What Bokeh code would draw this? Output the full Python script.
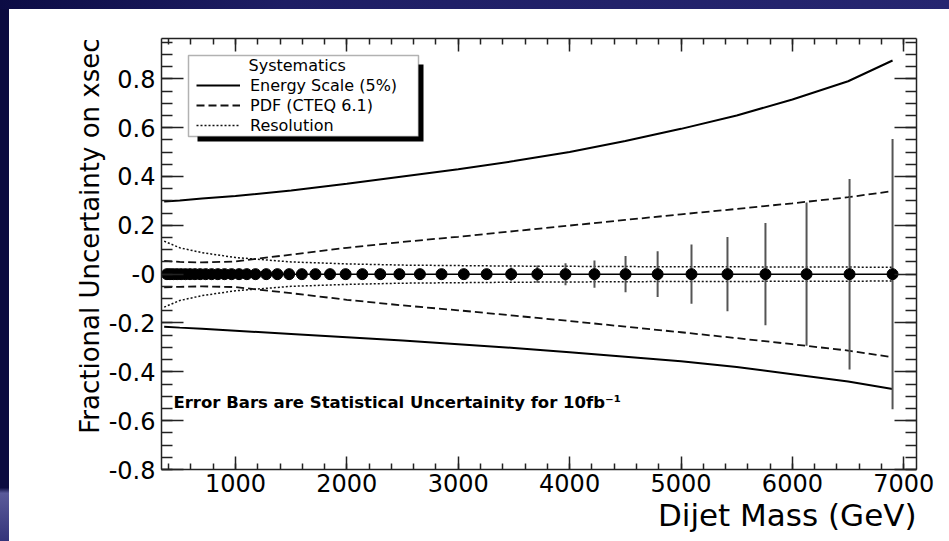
import numpy as np
from bokeh.plotting import figure
from bokeh.models import (Range1d, LinearAxis, FixedTicker, Legend, LegendItem, Label,
                          BoxAnnotation, Title, Spacer, ColumnDataSource)
from bokeh.layouts import column, row
from bokeh.embed import file_html
from bokeh.resources import INLINE

# ---------------- data ----------------
mass = [385, 412, 442, 476, 512, 551, 592, 636, 683, 733, 786, 842, 902, 965, 1032, 1102,
        1180, 1276, 1376, 1482, 1596, 1718, 1849, 1989, 2139, 2300, 2472, 2656, 2850, 3050,
        3255, 3475, 3710, 3963, 4223, 4502, 4790, 5094, 5417, 5758, 6127, 6513, 6899]
stat_err = [0.001, 0.001, 0.001, 0.001, 0.001, 0.001, 0.001, 0.001, 0.001, 0.001, 0.001,
            0.001, 0.001, 0.001, 0.002, 0.002, 0.002, 0.002, 0.002, 0.003, 0.003, 0.003,
            0.004, 0.004, 0.005, 0.005, 0.007, 0.009, 0.012, 0.016, 0.021, 0.027, 0.035,
            0.045, 0.056, 0.074, 0.094, 0.121, 0.152, 0.209, 0.293, 0.390, 0.553]

sys_mass = [360, 500, 700, 1000, 1500, 2000, 2500, 3000, 3500, 4000, 4500, 5000, 5500, 6000, 6500, 6899]
energy_up = [0.297, 0.302, 0.310, 0.320, 0.343, 0.370, 0.400, 0.430, 0.463, 0.500, 0.545, 0.595, 0.650, 0.715, 0.790, 0.875]
energy_dn = [-0.215, -0.219, -0.224, -0.232, -0.245, -0.258, -0.272, -0.287, -0.302, -0.320, -0.338, -0.357, -0.380, -0.410, -0.440, -0.470]
pdf_up = [0.054, 0.050, 0.048, 0.052, 0.080, 0.108, 0.132, 0.153, 0.176, 0.199, 0.222, 0.245, 0.267, 0.290, 0.315, 0.340]
pdf_dn = [-0.054, -0.052, -0.050, -0.053, -0.078, -0.105, -0.128, -0.148, -0.170, -0.192, -0.215, -0.238, -0.262, -0.287, -0.313, -0.340]
res_up = [0.135, 0.108, 0.088, 0.068, 0.050, 0.042, 0.037, 0.035, 0.033, 0.032, 0.031, 0.030, 0.030, 0.029, 0.029, 0.028]
res_dn = [-0.135, -0.108, -0.088, -0.068, -0.050, -0.042, -0.037, -0.035, -0.033, -0.032, -0.031, -0.030, -0.030, -0.029, -0.029, -0.028]

x_ticks = [1000, 2000, 3000, 4000, 5000, 6000, 7000]
x_tick_labels = ["1000", "2000", "3000", "4000", "5000", "6000", "7000"]
y_ticks = [-0.8, -0.6, -0.4, -0.2, 0, 0.2, 0.4, 0.6, 0.8]
y_tick_labels = ["-0.8", "-0.6", "-0.4", "-0.2", "-0", "0.2", "0.4", "0.6", "0.8"]

legend_labels = ["Energy Scale (5%)", "PDF (CTEQ 6.1)", "Resolution"]
legend_title = "Systematics"
note_text = "Error Bars are Statistical Uncertainity for 10fb\u207b\u00b9"
x_title = "Dijet Mass (GeV)"
y_title = "Fractional Uncertainty on xsec"

# ---------------- figure ----------------
FONT = "DejaVu Sans"
AX = "#222222"

p = figure(width=940, height=532, x_range=Range1d(336, 7114), y_range=Range1d(-0.8, 0.965),
           output_backend="svg", toolbar_location=None,
           min_border_left=152, min_border_right=33, min_border_top=29, min_border_bottom=72,
           background_fill_color="white", border_fill_color="white")
p.grid.visible = False
p.outline_line_color = None

x_minor = list(range(400, 7200, 200))
y_minor = [round(v, 2) for v in np.arange(-0.8, 0.97, 0.05)]

def style_axis(ax, tin, tmin):
    ax.axis_line_color = AX
    ax.axis_line_width = 1.5
    ax.major_tick_line_color = AX
    ax.minor_tick_line_color = AX
    ax.major_tick_line_width = 1.5
    ax.minor_tick_line_width = 1.5
    ax.major_tick_in = tin
    ax.major_tick_out = 0
    ax.minor_tick_in = tmin
    ax.minor_tick_out = 0
    ax.major_label_text_font = FONT
    ax.major_label_text_font_size = "24px"
    ax.major_label_text_color = "black"

xa = p.xaxis[0]
xa.ticker = FixedTicker(ticks=x_ticks, minor_ticks=x_minor)
xa.major_label_overrides = dict(zip(x_ticks, x_tick_labels))
style_axis(xa, 13, 6)
xa.major_label_standoff = 4

ya = p.yaxis[0]
ya.ticker = FixedTicker(ticks=y_ticks, minor_ticks=y_minor)
ya.major_label_overrides = dict(zip(y_ticks, y_tick_labels))
style_axis(ya, 22, 11)
ya.major_label_standoff = 6

top_ax = LinearAxis(ticker=FixedTicker(ticks=x_ticks, minor_ticks=x_minor))
style_axis(top_ax, 13, 6)
top_ax.major_label_text_font_size = "0px"
top_ax.major_label_overrides = {t: "" for t in x_ticks}
p.add_layout(top_ax, "above")

right_ax = LinearAxis(ticker=FixedTicker(ticks=y_ticks, minor_ticks=y_minor))
style_axis(right_ax, 22, 11)
right_ax.major_label_text_font_size = "0px"
right_ax.major_label_overrides = {t: "" for t in y_ticks}
p.add_layout(right_ax, "right")

# axis titles
p.add_layout(Title(text=x_title, align="right", text_font=FONT, text_font_size="31px",
                   text_font_style="normal", text_color="black", standoff=0), "below")
p.add_layout(Title(text=y_title, align="right", text_font=FONT, text_font_size="26px",
                   text_font_style="normal", text_color="black", standoff=2), "left")

# systematics curves
r_e = p.line(sys_mass, energy_up, line_color="black", line_width=2)
p.line(sys_mass, energy_dn, line_color="black", line_width=2)
r_p = p.line(sys_mass, pdf_up, line_color="#111111", line_width=1.8, line_dash="8 4")
p.line(sys_mass, pdf_dn, line_color="#111111", line_width=1.8, line_dash="8 4")
r_r = p.line(sys_mass, res_up, line_color="#111111", line_width=1.5, line_dash="2 2")
p.line(sys_mass, res_dn, line_color="#111111", line_width=1.5, line_dash="2 2")

# statistical points
m = np.array(mass, dtype=float)
e = np.array(stat_err, dtype=float)
src = ColumnDataSource(dict(x=m, y=np.zeros_like(m), lo=-e, hi=e))
p.segment(x0="x", y0="lo", x1="x", y1="hi", source=src, line_color="#555555", line_width=2)
p.line("x", "y", source=src, line_color="black", line_width=1.5)
p.scatter("x", "y", source=src, size=11, fill_color="black", line_color="black")

# legend: shadow, box, title, entries
p.add_layout(BoxAnnotation(left=36, right=262, top=405, bottom=328,
                           left_units="screen", right_units="screen",
                           top_units="screen", bottom_units="screen",
                           fill_color="black", fill_alpha=1, line_alpha=0))
p.add_layout(BoxAnnotation(left=27, right=257, top=414, bottom=333,
                           left_units="screen", right_units="screen",
                           top_units="screen", bottom_units="screen",
                           fill_color="white", fill_alpha=1, line_color="black", line_width=1.5))
p.add_layout(Label(x=87, y=404, x_units="screen", y_units="screen", text=legend_title,
                   text_font=FONT, text_font_size="16px", text_color="black",
                   text_baseline="middle"))
legend = Legend(items=[LegendItem(label=legend_labels[0], renderers=[r_e]),
                       LegendItem(label=legend_labels[1], renderers=[r_p]),
                       LegendItem(label=legend_labels[2], renderers=[r_r])],
                location=(35, 334), padding=0, spacing=0, margin=0,
                label_height=20, glyph_height=20, glyph_width=44, label_standoff=10,
                label_text_font=FONT, label_text_font_size="16px", label_text_color="black",
                background_fill_alpha=0, border_line_alpha=0)
p.add_layout(legend)

p.add_layout(Label(x=443, y=-0.5245, text=note_text, text_font=FONT, text_font_size="16.5px",
                   text_font_style="bold", text_color="black", text_baseline="middle"))

# slide background bands
top_band = Spacer(width=949, height=9,
                  styles={"background": "linear-gradient(to right, #0c0c44 0%, #1e1e64 30%, #262670 100%)"})
left_band = Spacer(width=9, height=532,
                   styles={"background": "linear-gradient(to bottom, #0b0b40 0%, #0b0b40 90%, #5a5a9a 91%, #34347a 100%)"})
layout = column(top_band, row(left_band, p))

open("out.html", "w").write(file_html(layout, INLINE))
